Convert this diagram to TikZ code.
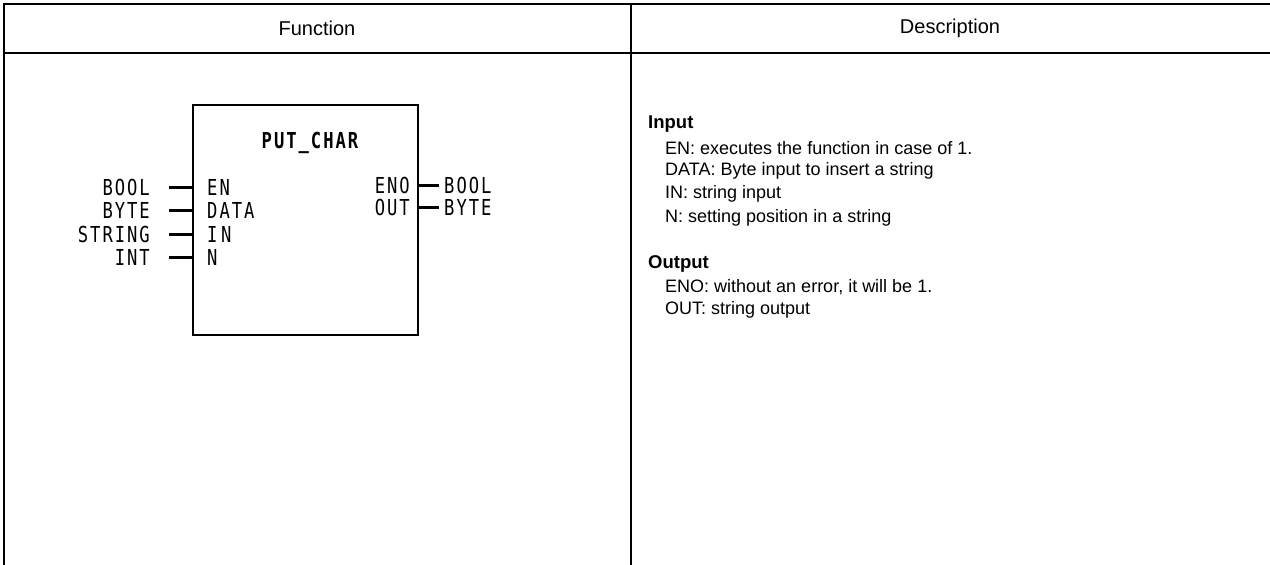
\documentclass[tikz,border=0pt]{standalone}
\usepackage{fontspec}
\setmainfont{Liberation Sans}
\newfontfamily\pinfont[FakeStretch=0.78,LetterSpace=9]{DejaVu Sans Mono}
\begin{document}
\begin{tikzpicture}[x=1pt,y=-1pt,
  frame/.style={line width=2.5pt},
  fbox/.style={line width=2pt},
  pin/.style={line width=3pt},
  pinlbl/.style={inner sep=0pt,font=\pinfont\fontsize{22}{24}\selectfont},
  desc/.style={inner sep=0pt,anchor=west,font=\fontsize{18}{21}\selectfont},
  deschd/.style={desc,font=\bfseries\fontsize{18.5}{22}\selectfont},
  hdr/.style={inner sep=0pt,font=\fontsize{20}{24}\selectfont}]
\useasboundingbox (0,0) rectangle (1270,565);
% table
\coordinate (tl) at (4,3);
\coordinate (bl) at (4,565);
\coordinate (tr) at (1270,4);
\coordinate (hl) at (4,53);
\coordinate (hr) at (1270,53);
\coordinate (dt) at (631,4);
\coordinate (db) at (631,565);
\draw[frame] (bl) -- (tl) -- (4,4) -- (tr);
\draw[frame] (hl) -- (hr);
\draw[frame] (dt) -- (db);
\node[hdr] (hf) at (317,28) {Function};
\node[hdr] (hd) at (950,28) {Description};
% function block
\node[fbox,draw,minimum width=225pt,minimum height=230pt,inner sep=0pt] (blk) at (305.5,220) {};
\node[pinlbl,font=\pinfont\bfseries\fontsize{22}{24}\selectfont] (title) at (310,143) {PUT\_CHAR};
% left pins
\foreach \n/\t/\l/\y in {en/BOOL/EN/187, data/BYTE/DATA/210, in/STRING/I\,N/234, nn/INT/N/257}{
  \coordinate (\n-s) at (169,\y);
  \coordinate (\n-e) at (blk.west |- 0,\y);
  \draw[pin] (\n-s) -- (\n-e);
  \node[pinlbl,anchor=east] (\n-t) at (150,\y) {\t};
  \node[pinlbl,anchor=west] (\n-l) at (207,\y) {\l};
}
% right pins
\foreach \n/\t/\l/\y in {eno/BOOL/ENO/185, out/BYTE/OUT/207}{
  \coordinate (\n-s) at (blk.east |- 0,\y);
  \coordinate (\n-e) at (439,\y);
  \draw[pin] (\n-s) -- (\n-e);
  \node[pinlbl,anchor=west] (\n-t) at (444,\y) {\t};
  \node[pinlbl,anchor=east] (\n-l) at (410,\y) {\l};
}
% description
\node[deschd] (din) at (648,124) {Input};
\node[desc] (d1) at (665,148) {EN: executes the function in case of 1.};
\node[desc] (d2) at (665,171) {DATA: Byte input to insert a string};
\node[desc] (d3) at (665,194) {IN: string input};
\node[desc] (d4) at (665,218) {N: setting position in a string};
\node[deschd] (dout) at (648,264) {Output};
\node[desc] (d5) at (665,287) {ENO: without an error, it will be 1.};
\node[desc] (d6) at (665,310) {OUT: string output};
\end{tikzpicture}
\end{document}
